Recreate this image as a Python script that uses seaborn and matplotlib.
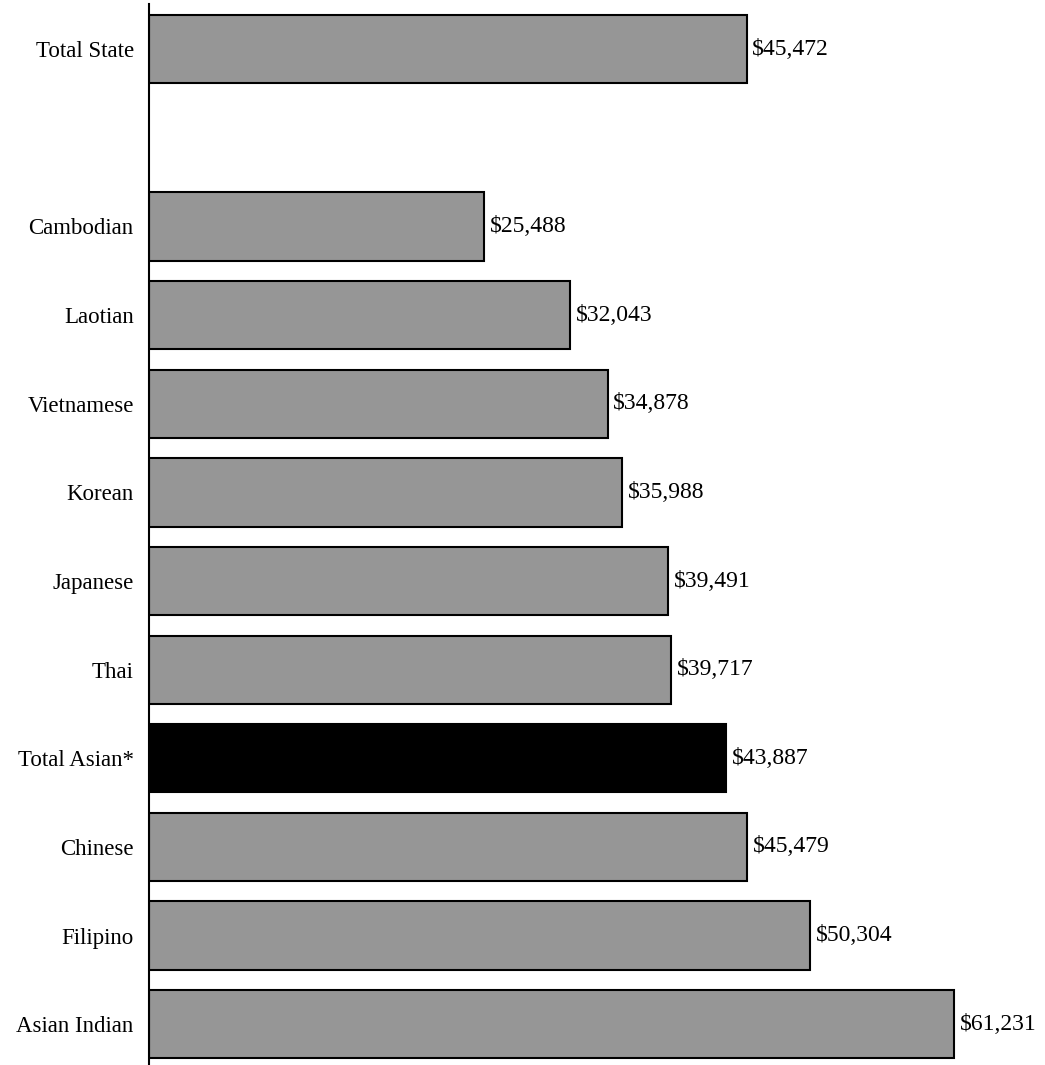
import matplotlib
matplotlib.use("Agg")
import matplotlib.pyplot as plt
import seaborn as sns
import pandas as pd

# Median household income by Asian group
groups = ["Total State", "Cambodian", "Laotian", "Vietnamese", "Korean", "Japanese",
          "Thai", "Total Asian*", "Chinese", "Filipino", "Asian Indian"]
income = [45472, 25488, 32043, 34878, 35988, 39491,
          39717, 43887, 45479, 50304, 61231]

# Blank slot separates the state total from the groups
order = ["Total State", " ", "Cambodian", "Laotian", "Vietnamese", "Korean", "Japanese",
         "Thai", "Total Asian*", "Chinese", "Filipino", "Asian Indian"]

df = pd.DataFrame({"group": groups, "income": income})
palette = {g: ("#000000" if g == "Total Asian*" else "#969696") for g in order}

sns.set_style("white")
plt.rcParams["font.family"] = ["Liberation Serif", "DejaVu Serif"]
plt.rcParams["text.color"] = "black"
plt.rcParams["ytick.color"] = "black"

fig = plt.figure(figsize=(10.45, 10.65), dpi=100)
ax = fig.add_axes([149 / 1045, 0.0, (1043 - 149) / 1045, (1065 - 4) / 1065])

sns.barplot(data=df, y="group", x="income", order=order, hue="group",
            palette=palette, legend=False, width=0.77, orient="h",
            edgecolor="black", linewidth=1.5, ax=ax, saturation=1)

for cont in ax.containers:
    ax.bar_label(cont, labels=[f"${v:,.0f}" for v in cont.datavalues],
                 padding=4, fontsize=17, color="black")

ax.set_xlim(0, 68000)
ax.set_ylim(11.46, -0.51)
ax.set_xlabel("")
ax.set_ylabel("")
ax.set_xticks([])
ax.tick_params(axis="y", length=0, pad=11, labelsize=16.5, labelcolor="black")
for s in ["top", "right", "bottom"]:
    ax.spines[s].set_visible(False)
ax.spines["left"].set_color("black")
ax.spines["left"].set_linewidth(1.5)

fig.savefig("out.png", dpi=100)
